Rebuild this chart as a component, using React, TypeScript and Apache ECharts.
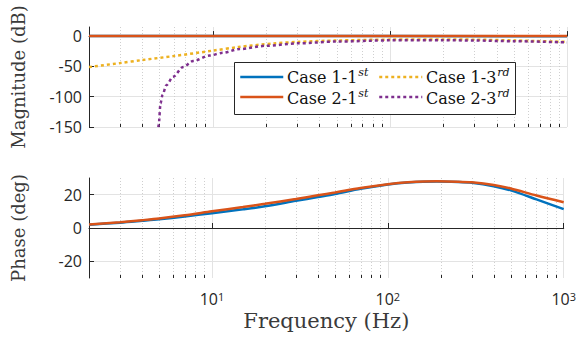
import React, { useEffect, useRef } from "react";
import * as echarts from "echarts";

// ---- data ----
const freqFirstMag = [2, 10, 100, 1000];
const case1FirstMag = [0, 0, 0, -0.4];
const case2FirstMag = [0, 0, 0, 0];

const freqCase13 = [2, 3, 4, 6, 10, 14, 21.8, 30, 50, 100, 200, 300, 500, 1000];
const case13Mag = [-51, -44.5, -39.5, -33, -24, -18, -12.3, -9.6, -7.3, -5.8, -5.5, -5.9, -7.2, -9.6];

const freqCase23 = [4.88, 4.95, 5.07, 5.2, 5.47, 5.97, 6.8, 7.74, 9.6, 11.4, 14.2, 20, 30, 50, 100, 200, 300, 500, 1000];
const case23Mag = [-170, -146, -111, -97, -81, -67, -51, -41, -32, -27.5, -21.4, -16, -12, -9, -7, -6.8, -7.3, -8.5, -10.5];

const freqPhase = [2, 3, 4, 5, 7, 10, 15, 20, 30, 40, 50, 70, 100, 130, 190, 250, 300, 400, 500, 700, 1000];
const case1FirstPhase = [2.0, 3.2, 4.3, 5.2, 6.9, 8.9, 11.2, 13.0, 16.3, 18.6, 20.4, 23.5, 26.1, 27.3, 27.9, 27.6, 27.1, 25.1, 22.6, 17.2, 11.3];
const case2FirstPhase = [2.1, 3.5, 4.7, 5.7, 7.6, 10.0, 12.6, 14.5, 17.4, 19.6, 21.3, 24.0, 26.3, 27.4, 28.0, 27.8, 27.4, 25.8, 23.7, 19.5, 15.5];

const magTicks = [-150, -100, -50, 0];
const phaseTicks = [-20, 0, 20];
const minorFreqs = [3, 4, 5, 6, 7, 8, 9, 20, 30, 40, 50, 60, 70, 80, 90, 200, 300, 400, 500, 600, 700, 800, 900];

const legendCol1 = [
  { name: "Case 1-1st", base: "Case 1-1", sup: "st" },
  { name: "Case 2-1st", base: "Case 2-1", sup: "st" },
];
const legendCol2 = [
  { name: "Case 1-3rd", base: "Case 1-3", sup: "rd" },
  { name: "Case 2-3rd", base: "Case 2-3", sup: "rd" },
];

const BLUE = "#0072BD";
const ORANGE = "#D95319";
const YELLOW = "#EDB120";
const PURPLE = "#7E2F8E";
const AXIS = "#262626";
const GRID = "#e3e3e3";
const MINOR = "#cfcfcf";
const SERIF = "DejaVu Serif";
const SANS = "Open Sans";
const LEGEND_FONT = 16;

const zip = (xs: number[], ys: number[]) => xs.map((x, i) => [x, ys[i]]);

let measureCtx: CanvasRenderingContext2D | null = null;
function textWidth(text: string, font: string) {
  if (!measureCtx) measureCtx = document.createElement("canvas").getContext("2d");
  if (!measureCtx) return text.length * 8;
  measureCtx.font = font;
  return measureCtx.measureText(text).width;
}

function minorSeries(idx: number) {
  return {
    type: "custom",
    xAxisIndex: idx,
    yAxisIndex: idx,
    silent: true,
    z: 1,
    data: minorFreqs.map((f) => [f, 0]),
    renderItem: (params: any, api: any) => {
      const cs = params.coordSys;
      const x = Math.round(api.coord([api.value(0), 0])[0]) + 0.5;
      const top = cs.y;
      const bottom = cs.y + cs.height;
      return {
        type: "group",
        children: [
          { type: "line", shape: { x1: x, y1: top, x2: x, y2: bottom }, style: { stroke: MINOR, lineWidth: 1, lineDash: [1, 2] } },
          { type: "line", shape: { x1: x, y1: bottom, x2: x, y2: bottom - 3 }, style: { stroke: AXIS, lineWidth: 1 } },
        ],
      };
    },
  };
}

function logX(idx: number, showLabels: boolean) {
  return {
    type: "log",
    gridIndex: idx,
    logBase: 10,
    min: 2,
    max: 1000,
    axisLine: { show: true, lineStyle: { color: AXIS, width: 1 } },
    axisTick: { show: true, inside: true, length: 5, lineStyle: { color: AXIS } },
    splitLine: { show: true, lineStyle: { color: GRID, width: 1 } },
    axisLabel: {
      show: showLabels,
      interval: 0,
      margin: 13,
      formatter: (v: number) => {
        const e = Math.round(Math.log10(v));
        if (Math.abs(Math.pow(10, e) - v) > 1e-6 * v) return "";
        return `{b|10}{s|${e}}`;
      },
      rich: {
        b: { fontFamily: SANS, fontSize: 16, color: AXIS, lineHeight: 16 },
        s: { fontFamily: SANS, fontSize: 11, color: AXIS, lineHeight: 6, verticalAlign: "top" },
      },
    },
  };
}

function valY(idx: number, min: number, max: number, ticks: number[], name: string) {
  return {
    type: "value",
    gridIndex: idx,
    min,
    max,
    interval: 5,
    name,
    nameLocation: "middle",
    nameGap: 62,
    nameTextStyle: { fontFamily: SERIF, fontSize: 18, color: "#3a3a3a" },
    axisLine: { show: true, lineStyle: { color: AXIS, width: 1 } },
    axisTick: { show: true, inside: true, length: 5, customValues: ticks, lineStyle: { color: AXIS } },
    axisLabel: { show: true, customValues: ticks, margin: 7, fontFamily: SANS, fontSize: 16, color: AXIS },
    splitLine: { show: true, lineStyle: { color: GRID, width: 1 } },
  };
}

const legendBase = {
  orient: "vertical",
  top: 69,
  padding: 0,
  itemWidth: 43,
  itemHeight: 16,
  itemGap: 5.7,
  selectedMode: false,
  itemStyle: { opacity: 0 },
  lineStyle: { width: 2.5 },
  formatter: () => "",
};

function legendTexts(col: { base: string; sup: string }[], x: number) {
  const out: any[] = [];
  col.forEach((c, i) => {
    const y = 77 + i * 21.7;
    const w = textWidth(c.base, `${LEGEND_FONT}px "${SERIF}"`);
    out.push({
      type: "text", z: 5, x, y,
      style: { text: c.base, fontFamily: SERIF, fontSize: LEGEND_FONT, fill: "#111", verticalAlign: "middle", align: "left" },
    });
    out.push({
      type: "text", z: 5, x: x + w + 1, y: y - 5,
      style: { text: c.sup, fontFamily: SERIF, fontSize: 11, fontStyle: "italic", fill: "#111", verticalAlign: "middle", align: "left" },
    });
  });
  return out;
}

export default function App() {
  const ref = useRef<HTMLDivElement>(null);
  useEffect(() => {
    if (!ref.current) return;
    const chart = echarts.init(ref.current, null, { renderer: "svg" });
    const dotted = [3, 3];
    chart.setOption({
      animation: false,
      backgroundColor: "#ffffff",
      grid: [
        { left: 89, top: 27, width: 478, height: 100 },
        { left: 89, top: 178, width: 478, height: 100 },
      ],
      xAxis: [
        logX(0, false),
        {
          ...logX(1, true),
          name: "Frequency (Hz)",
          nameLocation: "middle",
          nameGap: 32,
          nameTextStyle: { fontFamily: SERIF, fontSize: 21, color: "#3a3a3a" },
        },
      ],
      yAxis: [
        valY(0, -150, 15, magTicks, "Magnitude (dB)"),
        valY(1, -30, 30, phaseTicks, "Phase (deg)"),
      ],
      legend: [
        { ...legendBase, left: 239, data: legendCol1.map((c) => c.name) },
        { ...legendBase, left: 378, data: legendCol2.map((c) => c.name) },
      ],
      graphic: [
        {
          type: "rect",
          z: 3,
          shape: { x: 234.5, y: 62.5, width: 281, height: 52 },
          style: { fill: "#ffffff", stroke: AXIS, lineWidth: 1 },
        },
        ...legendTexts(legendCol1, 287),
        ...legendTexts(legendCol2, 426),
      ],
      series: [
        minorSeries(0),
        minorSeries(1),
        {
          name: "Case 1-1st", type: "line", xAxisIndex: 0, yAxisIndex: 0, symbol: "none",
          data: zip(freqFirstMag, case1FirstMag), color: BLUE, lineStyle: { width: 2.5, color: BLUE },
        },
        {
          name: "Case 2-1st", type: "line", xAxisIndex: 0, yAxisIndex: 0, symbol: "none",
          data: zip(freqFirstMag, case2FirstMag), color: ORANGE, lineStyle: { width: 2.5, color: ORANGE },
        },
        {
          name: "Case 1-3rd", type: "line", xAxisIndex: 0, yAxisIndex: 0, symbol: "none", smooth: 0.3,
          data: zip(freqCase13, case13Mag), color: YELLOW, lineStyle: { width: 2.5, color: YELLOW, type: dotted },
        },
        {
          name: "Case 2-3rd", type: "line", xAxisIndex: 0, yAxisIndex: 0, symbol: "none", smooth: 0.3, smoothMonotone: "x",
          data: zip(freqCase23, case23Mag), color: PURPLE, lineStyle: { width: 2.5, color: PURPLE, type: dotted },
        },
        {
          name: "Case 1-1st", type: "line", xAxisIndex: 1, yAxisIndex: 1, symbol: "none", smooth: 0.3,
          data: zip(freqPhase, case1FirstPhase), color: BLUE, lineStyle: { width: 2.5, color: BLUE },
        },
        {
          name: "Case 2-1st", type: "line", xAxisIndex: 1, yAxisIndex: 1, symbol: "none", smooth: 0.3,
          data: zip(freqPhase, case2FirstPhase), color: ORANGE, lineStyle: { width: 2.5, color: ORANGE },
        },
      ],
    });
    return () => chart.dispose();
  }, []);
  return <div ref={ref} style={{ position: "fixed", left: 0, top: 0, width: 579, height: 346 }} />;
}
